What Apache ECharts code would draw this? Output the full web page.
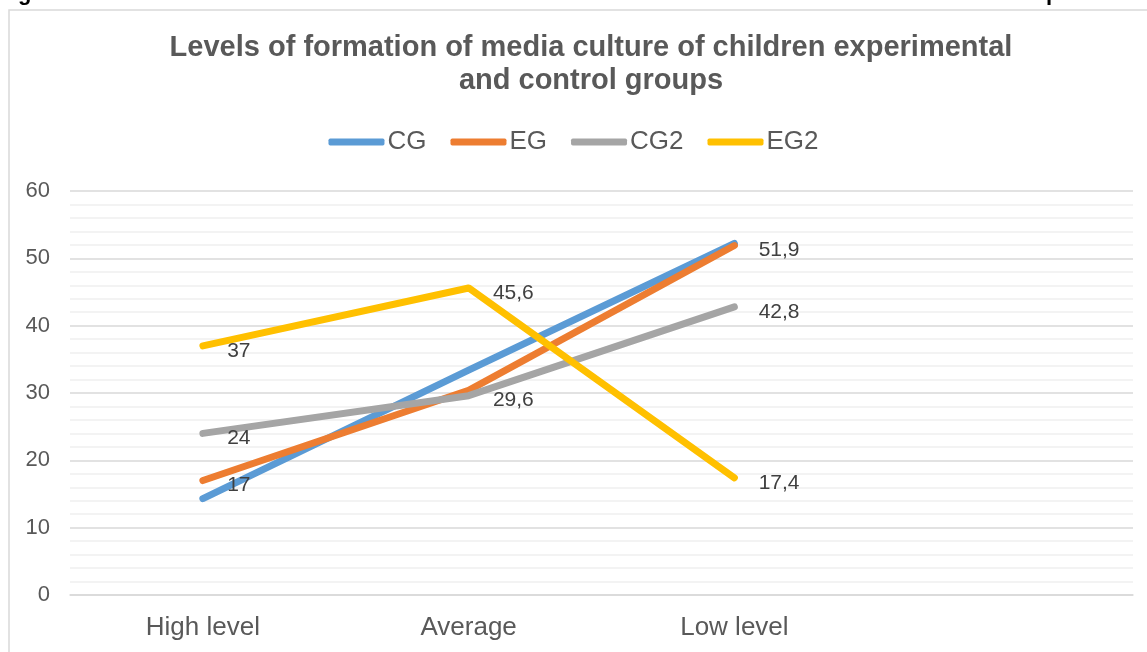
<!DOCTYPE html>
<html>
<head>
<meta charset="utf-8">
<script src="https://cdn.jsdelivr.net/npm/echarts@6/dist/echarts.min.js"></script>
<style>
html,body{margin:0;padding:0;background:#fff;}
#main{width:1147px;height:652px;}
</style>
</head>
<body>
<div id="main"></div>
<script>
const categories = ['High level', 'Average', 'Low level', ''];
const seriesNames = ['CG', 'EG', 'CG2', 'EG2'];
const cgValues = [14.3, 33.4, 52.2];
const egValues = [17, 30.4, 51.9];
const cg2Values = [24, 29.6, 42.8];
const eg2Values = [37, 45.6, 17.4];
const egLabelShown = [true, false, true];
const colors = ['#5B9BD5', '#ED7D31', '#A5A5A5', '#FFC000'];
const titleText = 'Levels of formation of media culture of children experimental\nand control groups';

const chart = echarts.init(document.getElementById('main'));
const FONT = '"Liberation Sans", Arial, sans-serif';

const labelStyle = {
  show: true,
  position: 'right',
  distance: 24,
  offset: [0, 5],
  color: '#404040',
  fontSize: 21,
  fontFamily: FONT,
  formatter: p => String(p.value).replace('.', ',')
};

function mkSeries(name, values, color, labels) {
  return {
    name: name,
    type: 'line',
    data: values.map((v, i) => ({
      value: v,
      label: labels ? Object.assign({}, labelStyle, { show: labels[i] }) : { show: false }
    })),
    symbol: 'circle',
    showSymbol: true,
    symbolSize: 0.5,
    lineStyle: { color: color, width: 7, cap: 'round', join: 'round' },
    itemStyle: { color: color },
    emphasis: { disabled: true },
    z: 2
  };
}

chart.setOption({
  animation: false,
  backgroundColor: '#fff',
  color: colors,
  title: {
    text: titleText,
    left: 586,
    textAlign: 'center',
    top: 26,
    textStyle: { fontSize: 29, fontWeight: 'bold', color: '#595959', fontFamily: FONT, lineHeight: 33 }
  },
  legend: {
    data: seriesNames,
    top: 124,
    left: 'center',
    icon: 'roundRect',
    itemWidth: 56,
    itemHeight: 7,
    itemGap: 24,
    textStyle: { fontSize: 26, color: '#595959', fontFamily: FONT, padding: [0, 0, 0, -2] }
  },
  grid: { left: 70, right: 14, top: 191, bottom: 57, containLabel: false },
  xAxis: {
    type: 'category',
    data: categories,
    boundaryGap: true,
    axisLine: { lineStyle: { color: '#d9d9d9', width: 1.5 } },
    axisTick: { show: false },
    axisLabel: { fontSize: 26, color: '#595959', fontFamily: FONT, margin: 20 },
    splitLine: { show: false }
  },
  yAxis: {
    type: 'value',
    min: 0,
    max: 60,
    interval: 10,
    axisLine: { show: false },
    axisTick: { show: false },
    axisLabel: { fontSize: 22, color: '#595959', fontFamily: FONT, margin: 20 },
    splitLine: { lineStyle: { color: '#d9d9d9', width: 1.5 } },
    minorTick: { show: false, splitNumber: 5 },
    minorSplitLine: { show: true, lineStyle: { color: '#efefef', width: 1.5 } }
  },
  graphic: [
    { type: 'rect', shape: { x: 9, y: 10, width: 1200, height: 700 }, style: { fill: 'none', stroke: '#d9d9d9', lineWidth: 1.5 }, z: -1, silent: true },
    { type: 'text', x: 18, y: -17, style: { text: 'g', font: 'bold 22px ' + FONT, fill: '#000' }, silent: true },
    { type: 'text', x: 1046, y: -17, style: { text: 'p', font: 'bold 22px ' + FONT, fill: '#000' }, silent: true }
  ],
  series: [
    mkSeries('CG', cgValues, colors[0], null),
    mkSeries('EG', egValues, colors[1], egLabelShown),
    mkSeries('CG2', cg2Values, colors[2], [true, true, true]),
    mkSeries('EG2', eg2Values, colors[3], [true, true, true])
  ]
});
</script>
</body>
</html>
